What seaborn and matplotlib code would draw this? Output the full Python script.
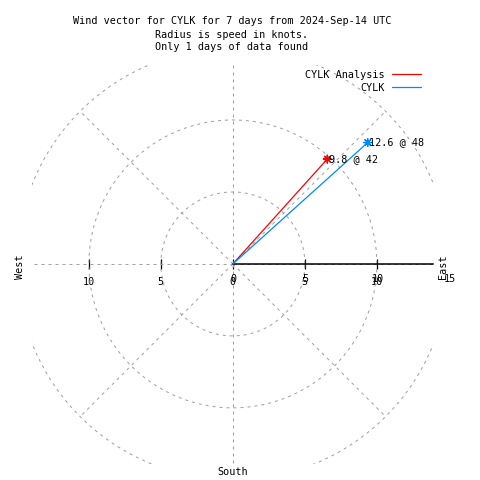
import numpy as np
import pandas as pd
import matplotlib
matplotlib.use("Agg")
import matplotlib.pyplot as plt
import seaborn as sns

# ---- data ----
series = ["CYLK Analysis", "CYLK"]
speeds = [9.8, 12.6]          # knots
directions = [42, 48]         # degrees
colors = ["#ff0000", "#0088ff"]
title_lines = ["Wind vector for CYLK for 7 days from 2024-Sep-14 UTC",
               "Radius is speed in knots.",
               "Only 1 days of data found"]
ring_radii = [5, 10, 15]
spoke_angles = [0, 45, 90, 135, 180, 225, 270, 315]
x_ticks = [-10, -5, 0, 5, 10]
r_ticks = [0, 5, 10, 15]

sns.set_theme(style="white")
plt.rcParams['font.family'] = ['DejaVu Sans Mono', 'DejaVu Sans']
plt.rcParams['text.color'] = 'black'
FS = 7.3
GRAY = "#a0a0a0"
PX = 72 / 100.0  # one pixel in points

fig = plt.figure(figsize=(4.8, 4.8), dpi=100)
ax = fig.add_axes([32 / 480, 1 - 464 / 480, 401 / 480, 399 / 480])
ax.set_facecolor("white")
XMAX = 13.9
ax.set_xlim(-13.95, XMAX)
ax.set_ylim(-13.9, 13.82)

# grid rings and spokes
theta = np.linspace(0, 2 * np.pi, 721)
for r in ring_radii:
    ax.plot(r * np.cos(theta), r * np.sin(theta), color=GRAY, lw=PX,
            ls=(0, (3, 4)), zorder=1)
rmax = max(ring_radii)
for a in spoke_angles:
    t = np.deg2rad(a)
    ax.plot([0, rmax * np.cos(t)], [0, rmax * np.sin(t)], color=GRAY, lw=PX,
            ls=(0, (3, 4)), zorder=1)

# wind vectors
rows = []
tips = []
for s, sp, d in zip(series, speeds, directions):
    t = np.deg2rad(d)
    x, y = sp * np.sin(t), sp * np.cos(t)
    rows.append({"series": s, "x": 0.0, "y": 0.0})
    rows.append({"series": s, "x": x, "y": y})
    tips.append({"series": s, "x": x, "y": y, "sp": sp, "d": d})
df = pd.DataFrame(rows)
tip_df = pd.DataFrame(tips)
pal = dict(zip(series, colors))

sns.lineplot(data=df, x="x", y="y", hue="series", hue_order=series,
             palette=pal, sort=False, estimator=None, lw=0.9,
             ax=ax, zorder=4)
sns.scatterplot(data=tip_df, x="x", y="y", hue="series", hue_order=series,
                palette=pal, marker=(8, 2, 0), s=32, linewidth=0.9,
                legend=False, ax=ax, zorder=5)
for _, row in tip_df.iterrows():
    ax.annotate(f"{row['sp']:g} @ {row['d']:d}", xy=(row["x"], row["y"]),
                xytext=(1.2, 0), textcoords="offset points", ha="left",
                va="center", fontsize=FS, color="black", zorder=6,
                annotation_clip=False)

# axis along east
for side in ["top", "right", "left"]:
    ax.spines[side].set_visible(False)
ax.spines["bottom"].set_position(("data", 0))
ax.spines["bottom"].set_bounds(0, XMAX)
ax.spines["bottom"].set_color("black")
ax.spines["bottom"].set_linewidth(1.1)
ax.spines["bottom"].set_zorder(3)
ax.set_xticks(x_ticks)
ax.set_xticklabels([str(abs(t)) for t in x_ticks])
ax.set_yticks([])
ax.tick_params(axis="x", bottom=True, direction="inout", length=6.5,
               width=0.9, pad=6.5, labelsize=FS, colors="black")
ax.set_xlabel("")
ax.set_ylabel("")

# r-axis labels
for r in r_ticks:
    ax.annotate(str(r), xy=(r, 0), xytext=(0.7, -10.8),
                textcoords="offset points", ha="center", va="center",
                fontsize=FS, color="black", annotation_clip=False)

# legend
sns.move_legend(ax, "upper right", bbox_to_anchor=(421 / 480, 1 - 70 / 480),
                bbox_transform=fig.transFigure, frameon=False,
                markerfirst=False, handlelength=2.9, handletextpad=0.7,
                labelspacing=0.3, fontsize=FS, title=None, borderpad=0,
                borderaxespad=0)

# compass labels
fig.text(20 / 480, 1 - 267 / 480, "West", rotation=90, ha="center",
         va="center", fontsize=FS)
fig.text(443 / 480, 1 - 267 / 480, "East", rotation=90, ha="center",
         va="center", fontsize=FS)
fig.text(233 / 480, 1 - 472 / 480, "South", ha="center", va="center",
         fontsize=FS)

# title
for line, yb in zip(title_lines, [24.5, 37.5, 50.5]):
    fig.text(232 / 480, 1 - yb / 480, line, ha="center", va="baseline",
             fontsize=FS)

fig.savefig("out.png", dpi=100, facecolor="white")
